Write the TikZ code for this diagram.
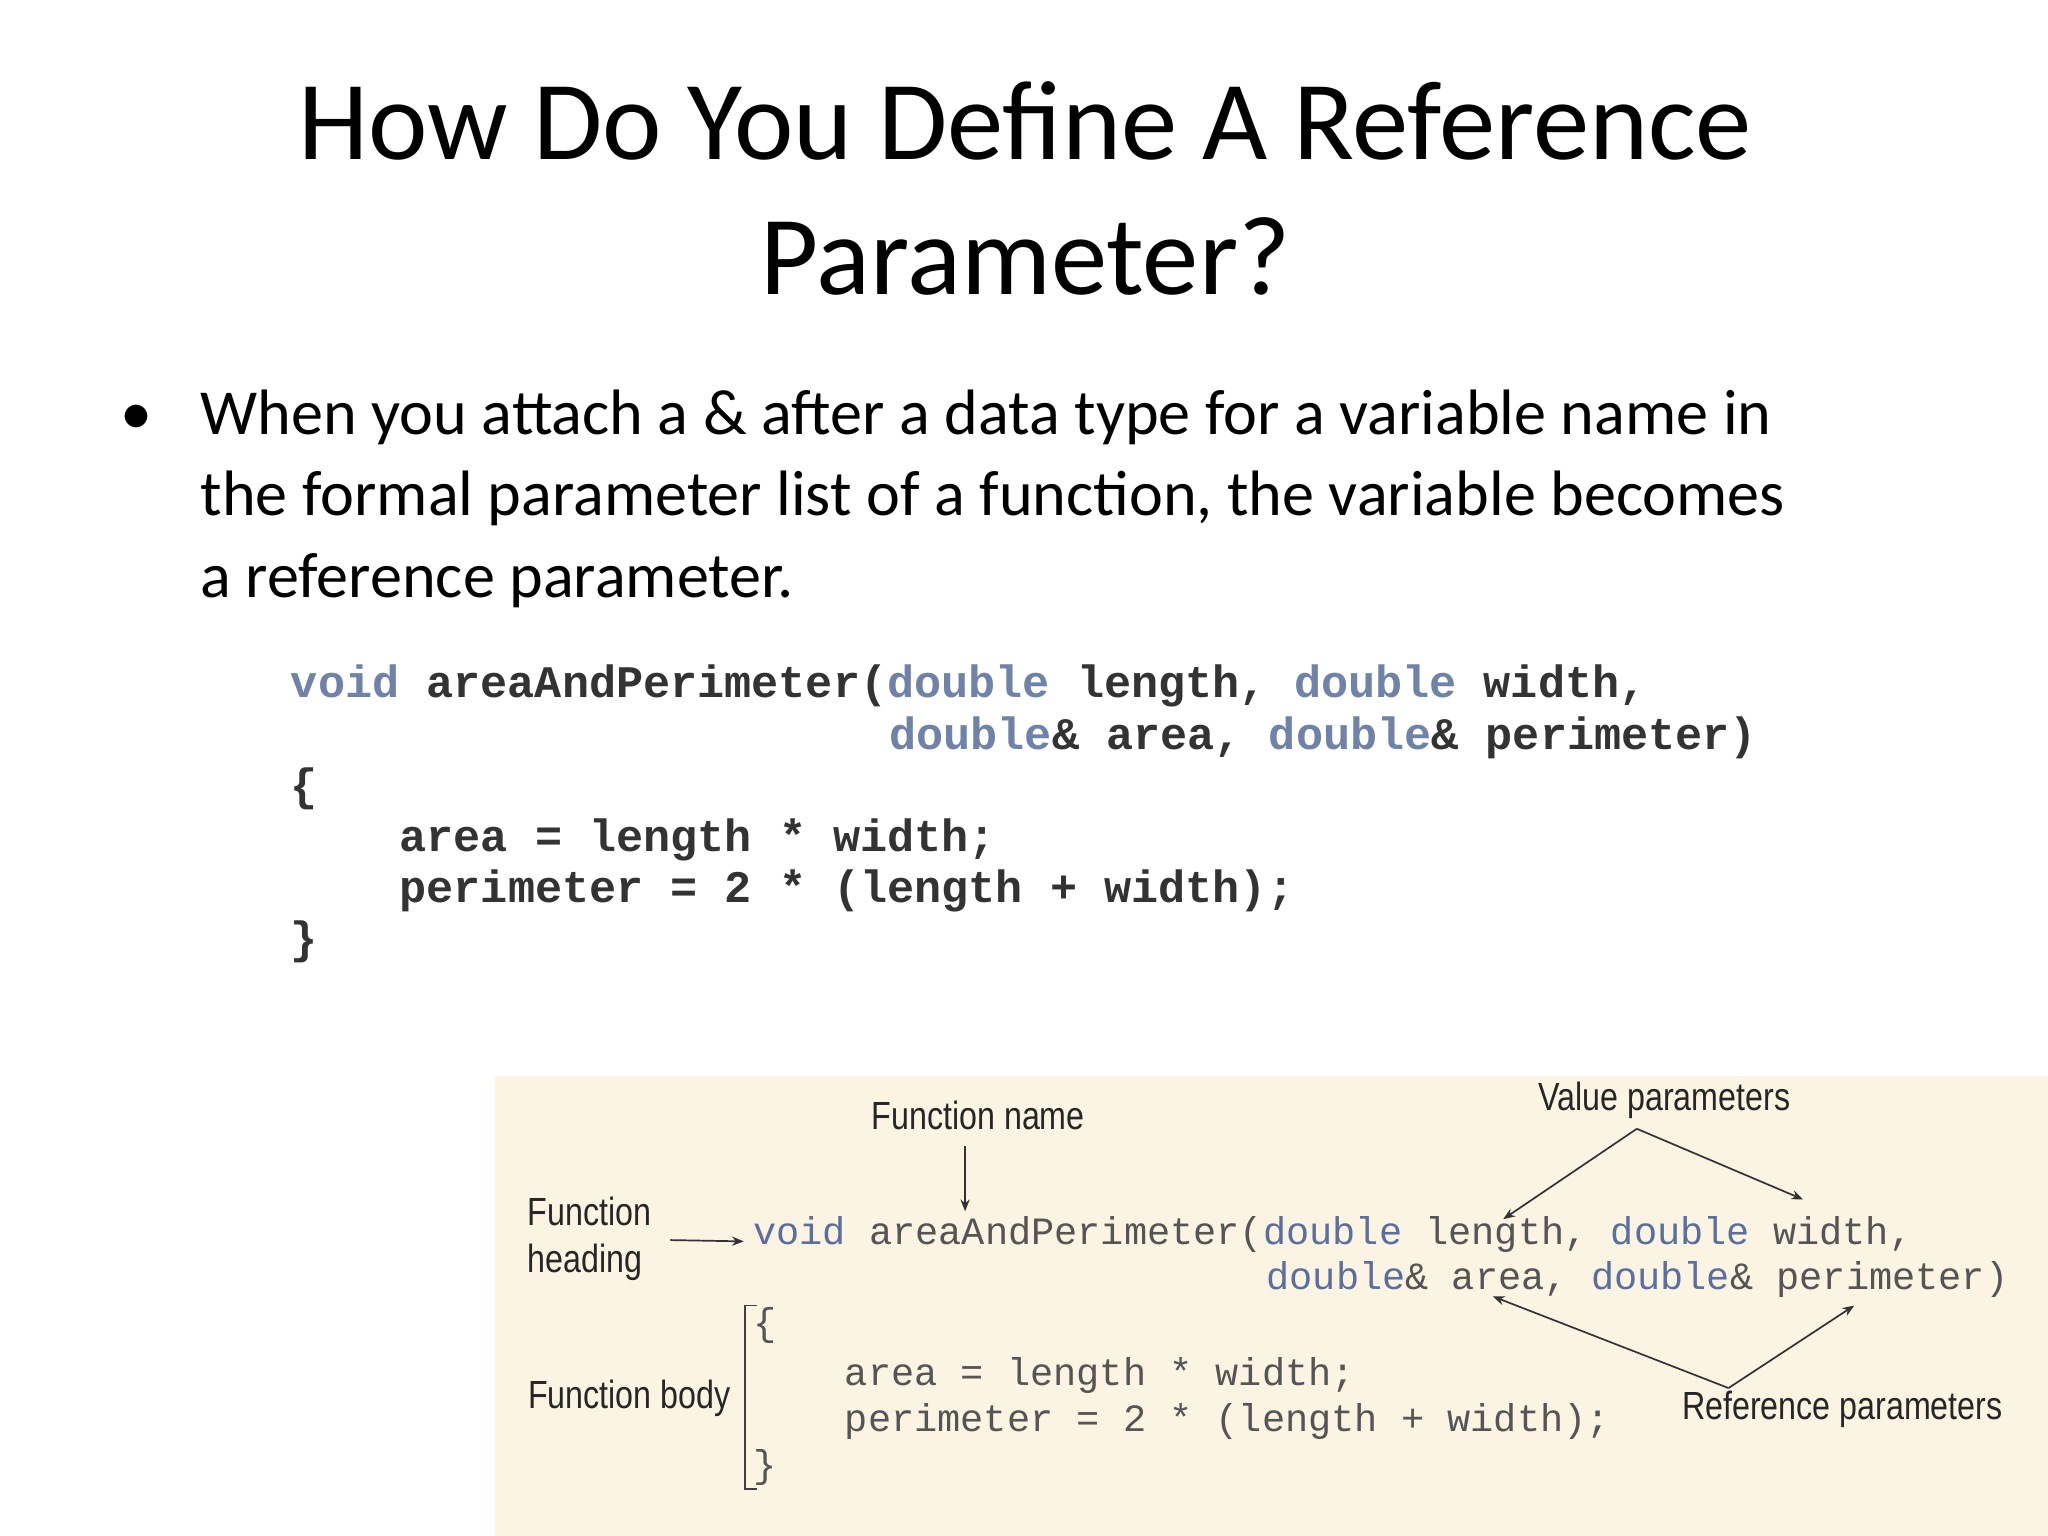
\documentclass[tikz,border=0pt]{standalone}
\usepackage{fontspec}
\setmainfont{Carlito}
\newfontfamily\codefont{Liberation Mono}
\newfontfamily\labfont{Liberation Sans}
\usetikzlibrary{arrows.meta}
\definecolor{kw}{HTML}{6F82A8}
\definecolor{cd}{HTML}{333333}
\definecolor{kw2}{HTML}{5A6FA0}
\definecolor{cd2}{HTML}{555555}
\definecolor{beige}{HTML}{FBF4E2}
\tikzset{
  title/.style={font=\fontsize{86}{100}\selectfont, anchor=base},
  body/.style={font=\fontsize{49}{60}\selectfont, anchor=base west, inner sep=0},
  code/.style={font=\codefont\bfseries\fontsize{34.5}{40}\selectfont, text=cd, anchor=base west, inner sep=0},
  code2/.style={font=\codefont\fontsize{29.5}{34}\selectfont, text=cd2, anchor=base west, inner sep=0},
  lab/.style={font=\labfont\fontsize{30}{34}\selectfont, text=black!85, inner sep=0, align=left},
  arr/.style={-{Stealth[length=9pt,width=7pt]}, line width=1.3pt, black!80},
}
\begin{document}
\begin{tikzpicture}[x=1pt,y=-1pt]
\def\nw#1{\scalebox{0.82}[1]{#1}}
\useasboundingbox (0,0) rectangle (1564,1173);
\fill[white] (0,0) rectangle (1564,1173);
\node[title] (t1) at (783,122) {How Do You Define A Reference};
\node[title] (t2) at (783,225) {Parameter?};
\node[body] (bul) at (92,332) {•};
\node[body] (b1) at (153,332) {When you attach a \& after a data type for a variable name in};
\node[body] (b2) at (153,394) {the formal parameter list of a function, the variable becomes};
\node[body] (b3) at (153,456) {a reference parameter.};
\node[code] (c1) at (222,533) {\textcolor{kw}{void} areaAndPerimeter(\textcolor{kw}{double} length, \textcolor{kw}{double} width,};
\node[code] (c2) at (679,572) {\textcolor{kw}{double}\& area, \textcolor{kw}{double}\& perimeter)};
\node[code] (c3) at (222,611) {\{};
\node[code] (c4) at (305,650) {area = length * width;};
\node[code] (c5) at (305,689) {perimeter = 2 * (length + width);};
\node[code] (c6) at (222,728) {\}};
\fill[beige] (378,822) rectangle (1564,1173);
\node[code2] (d1) at (575,950) {\textcolor{kw2}{void} areaAndPerimeter(\textcolor{kw2}{double} length, \textcolor{kw2}{double} width,};
\node[code2] (d2) at (967,985) {\textcolor{kw2}{double}\& area, \textcolor{kw2}{double}\& perimeter)};
\node[code2] (d3) at (575,1020) {\{};
\node[code2] (d4) at (645,1058) {area = length * width;};
\node[code2] (d5) at (645,1093) {perimeter = 2 * (length + width);};
\node[code2] (d6) at (575,1128) {\}};
\draw[line width=1.2pt, black!75] (578,997) -- (569,997) -- (569,1137) -- (578,1137);
\node[lab] (fn) at (747,852) {\nw{Function name}};
\node[lab, anchor=west] (fh) at (403,946) {\nw{Function}\\[2pt]\nw{heading}};
\node[lab, anchor=east] (fb) at (558,1068) {\nw{Function body}};
\node[lab] (vp) at (1271,840) {\nw{Value parameters}};
\node[lab] (rp) at (1407,1076) {\nw{Reference parameters}};
\coordinate (fnA) at (737,925);
\coordinate (fhA) at (568,948);
\coordinate (vtop) at (1250,862);
\coordinate (vl) at (1148,931);
\coordinate (vr) at (1377,916);
\coordinate (rbot) at (1320,1060);
\coordinate (rl) at (1140,990);
\coordinate (rr) at (1416,997);
\draw[arr] (737,875) -- (fnA);
\draw[arr] (512,947) -- (fhA);
\draw[arr] (vtop) -- (vl);
\draw[arr] (vtop) -- (vr);
\draw[arr] (rbot) -- (rl);
\draw[arr] (rbot) -- (rr);
\end{tikzpicture}
\end{document}
